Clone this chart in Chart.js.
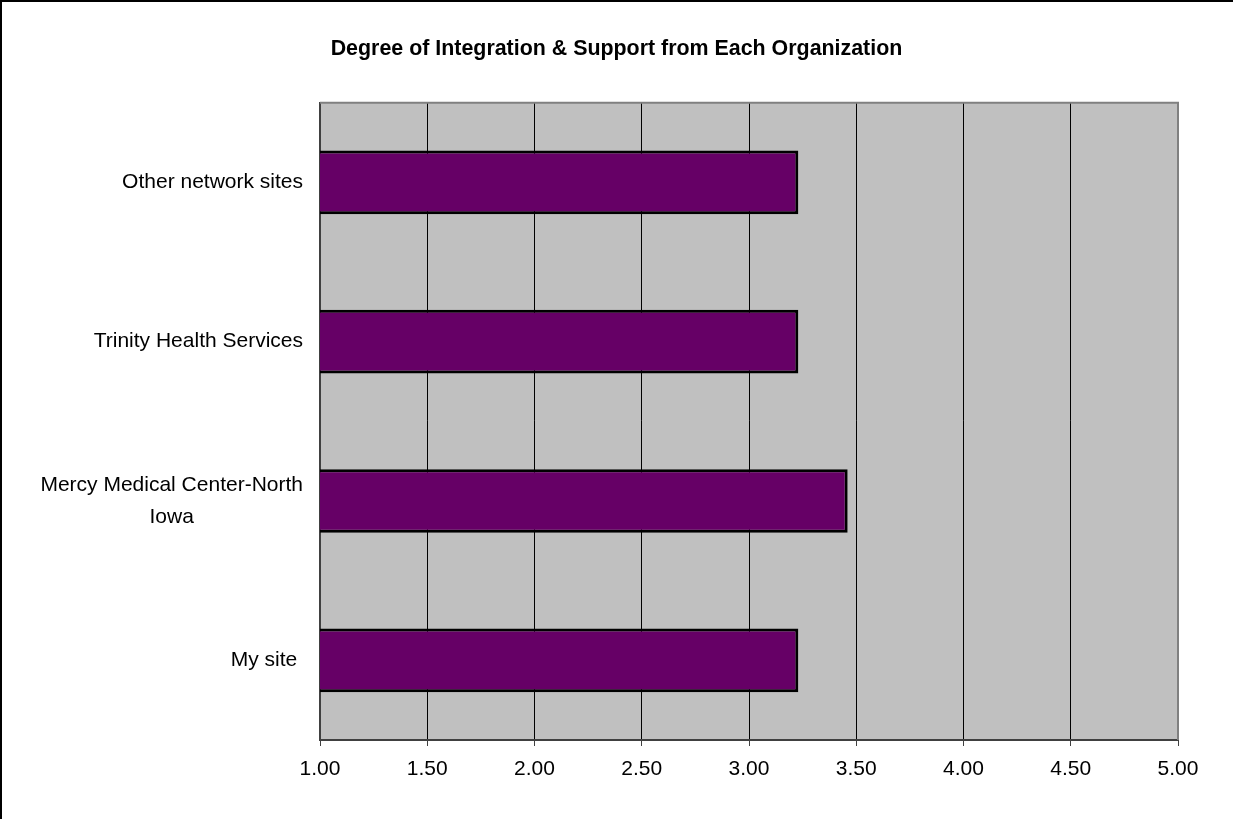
<!DOCTYPE html>
<html>
<head>
<meta charset="utf-8">
<script src="https://cdn.jsdelivr.net/npm/chart.js@4"></script>
<style>
  html, body { margin: 0; padding: 0; background: #fff; }
  canvas { display: block; }
</style>
</head>
<body>
<canvas id="orgChart" width="1233" height="819"></canvas>
<script>
// chart data, top row first (Chart.js draws category 0 at the top)
const categories = ["Other network sites", "Trinity Health Services", ["Mercy Medical Center-North", "Iowa"], "My site "];
const scores = [3.23, 3.23, 3.46, 3.23];
const tickValues = [1.0, 1.5, 2.0, 2.5, 3.0, 3.5, 4.0, 4.5, 5.0];

const FONT = '"Liberation Sans", Arial, sans-serif';

// grey plot background, grey frame on top/right, black page border
const plotFrame = {
  id: "plotFrame",
  beforeDraw(chart) {
    const { ctx, chartArea: a } = chart;
    ctx.save();
    ctx.fillStyle = "#c0c0c0";
    ctx.fillRect(a.left, a.top, a.right - a.left, a.bottom - a.top);
    ctx.restore();
  },
  afterDraw(chart) {
    const { ctx, chartArea: a } = chart;
    ctx.save();
    ctx.strokeStyle = "#808080";
    ctx.lineWidth = 2;
    ctx.beginPath();
    ctx.moveTo(a.left, a.top);
    ctx.lineTo(a.right, a.top);
    ctx.lineTo(a.right, a.bottom);
    ctx.stroke();
    ctx.fillStyle = "#000";
    ctx.fillRect(0, 0, 2, chart.height);
    ctx.fillRect(0, 0, chart.width, 2);
    ctx.restore();
  }
};

// category labels: right aligned block, wrapped lines centred on each other (Excel style)
const catLabels = {
  id: "catLabels",
  afterDraw(chart) {
    const { ctx } = chart;
    const y = chart.scales.y;
    const right = chart.chartArea.left - 17;
    const lh = 32;
    ctx.save();
    ctx.font = "21px " + FONT;
    ctx.fillStyle = "#000";
    ctx.textAlign = "center";
    ctx.textBaseline = "middle";
    categories.forEach((lab, i) => {
      const lines = Array.isArray(lab) ? lab : [lab];
      const w = Math.max(...lines.map(l => ctx.measureText(l).width));
      const cy = y.getPixelForTick(i);
      lines.forEach((l, j) => {
        ctx.fillText(l, right - w / 2, cy + (j - (lines.length - 1) / 2) * lh);
      });
    });
    ctx.restore();
  }
};

new Chart(document.getElementById("orgChart"), {
  type: "bar",
  data: {
    labels: categories,
    datasets: [{
      data: scores,
      backgroundColor: "#660066",
      borderColor: "#000",
      borderWidth: 3,
      borderSkipped: "start",
      barPercentage: 0.4,
      categoryPercentage: 1
    }]
  },
  options: {
    indexAxis: "y",
    responsive: false,
    animation: false,
    layout: { padding: 0 },
    plugins: {
      legend: { display: false },
      tooltip: { enabled: false },
      title: {
        display: true,
        text: "Degree of Integration & Support from Each Organization",
        color: "#000",
        font: { family: FONT, size: 21.4, weight: "bold", lineHeight: 1.2 },
        padding: { top: 36, bottom: 41 }
      }
    },
    scales: {
      x: {
        min: 1,
        max: 5,
        afterBuildTicks: s => { s.ticks = tickValues.map(v => ({ value: v })); },
        ticks: {
          color: "#000",
          padding: 11,
          font: { family: FONT, size: 21 },
          callback: v => Number(v).toFixed(2)
        },
        grid: { color: "#000", lineWidth: 1, tickLength: 6, tickColor: "#404040" },
        border: { display: true, color: "#404040", width: 2 },
        afterFit: s => { s.height = 79; }
      },
      y: {
        ticks: { display: false },
        grid: { display: false },
        border: { display: true, color: "#404040", width: 2 },
        afterFit: s => { s.width = 320; }
      },
      yRight: {
        type: "category",
        position: "right",
        labels: categories,
        ticks: { display: false },
        grid: { display: false },
        border: { display: false },
        afterFit: s => { s.width = 55; }
      }
    }
  },
  plugins: [plotFrame, catLabels]
});
</script>
</body>
</html>
